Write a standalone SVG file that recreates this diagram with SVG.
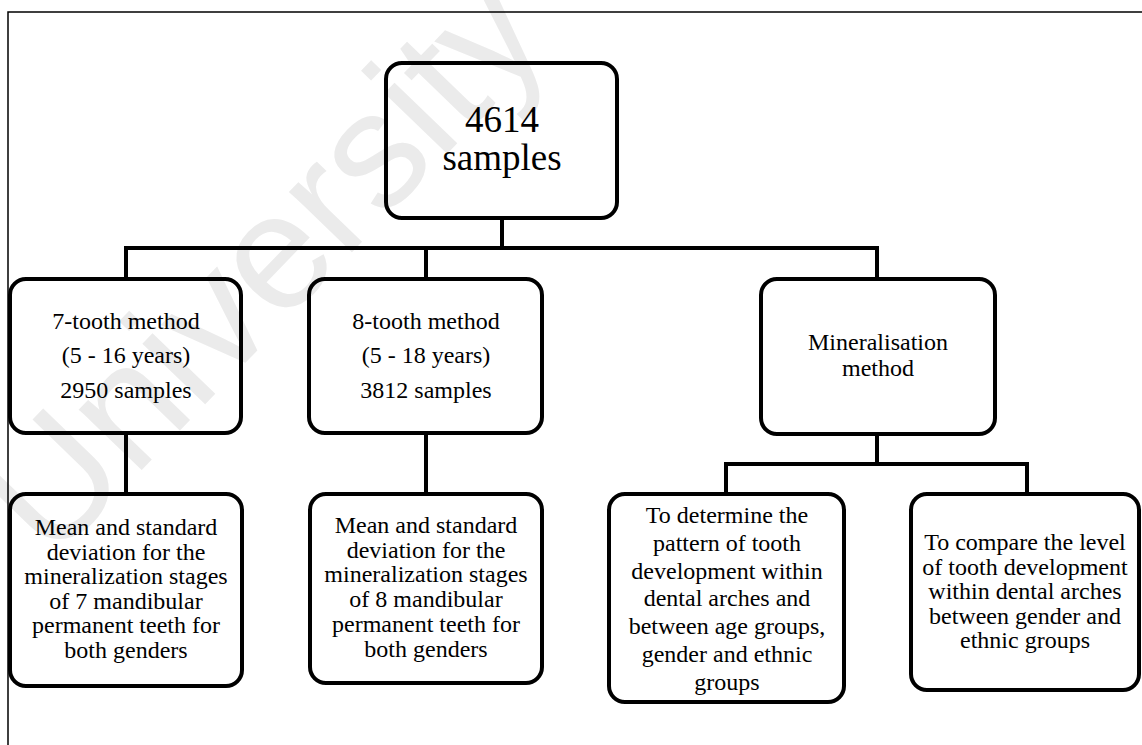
<svg xmlns="http://www.w3.org/2000/svg" width="1142" height="745" viewBox="0 0 1142 745">
<style>
.bg{fill:#ffffff}
.wm{font-family:"Liberation Sans",Arial,sans-serif;font-size:165px;fill:#ebebeb}
.frame{stroke:#000;stroke-width:1.5;fill:none}
.box{fill:none;stroke:#000;stroke-width:4}
.con{stroke:#000;stroke-width:4;fill:none;stroke-linecap:square}
.t{font-family:"Liberation Serif","Times New Roman",serif;font-size:24px;fill:#000;text-anchor:middle}
.big{font-family:"Liberation Serif","Times New Roman",serif;font-size:37px;fill:#000;text-anchor:middle}
</style>
<rect class="bg" x="0" y="0" width="1142" height="745"/>
<text class="wm" transform="translate(51,564) rotate(-46)">University</text>
<path class="frame" d="M8,745 V12 H1142"/>
<g id="connectors">
<path class="con" d="M502,218 V248"/>
<path class="con" d="M126,279 V248 H877 V279"/>
<path class="con" d="M426,248 V279"/>
<path class="con" d="M126,433 V494"/>
<path class="con" d="M426,433 V494"/>
<path class="con" d="M877,434 V464"/>
<path class="con" d="M726,494 V464 H1027 V494"/>
</g>
<g id="root">
<rect class="box" x="386" y="63" width="231" height="155" rx="16"/>
<text class="big" x="502" y="132">4614</text>
<text class="big" x="502" y="170">samples</text>
</g>
<g id="seven">
<rect class="box" x="10" y="279" width="231" height="154" rx="16"/>
<text class="t" x="126" y="329">7-tooth method</text>
<text class="t" x="126" y="363">(5 - 16 years)</text>
<text class="t" x="126" y="398">2950 samples</text>
</g>
<g id="eight">
<rect class="box" x="309" y="279" width="233" height="154" rx="16"/>
<text class="t" x="426" y="329">8-tooth method</text>
<text class="t" x="426" y="363">(5 - 18 years)</text>
<text class="t" x="426" y="398">3812 samples</text>
</g>
<g id="mineral">
<rect class="box" x="761" y="279" width="234" height="155" rx="16"/>
<text class="t" x="878" y="350">Mineralisation</text>
<text class="t" x="878" y="376">method</text>
</g>
<g id="seven-result">
<rect class="box" x="10" y="494" width="232" height="192" rx="16"/>
<text class="t" x="126" y="535">Mean and standard</text>
<text class="t" x="126" y="559.6">deviation for the</text>
<text class="t" x="126" y="584.2">mineralization stages</text>
<text class="t" x="126" y="608.8">of 7 mandibular</text>
<text class="t" x="126" y="633.4">permanent teeth for</text>
<text class="t" x="126" y="658">both genders</text>
</g>
<g id="eight-result">
<rect class="box" x="310" y="494" width="232" height="189" rx="16"/>
<text class="t" x="426" y="533">Mean and standard</text>
<text class="t" x="426" y="557.7">deviation for the</text>
<text class="t" x="426" y="582.4">mineralization stages</text>
<text class="t" x="426" y="607.1">of 8 mandibular</text>
<text class="t" x="426" y="631.8">permanent teeth for</text>
<text class="t" x="426" y="656.5">both genders</text>
</g>
<g id="pattern">
<rect class="box" x="609" y="494" width="235" height="208" rx="16"/>
<text class="t" x="727" y="523">To determine the</text>
<text class="t" x="727" y="550.8">pattern of tooth</text>
<text class="t" x="727" y="578.6">development within</text>
<text class="t" x="727" y="606.4">dental arches and</text>
<text class="t" x="727" y="634.2">between age groups,</text>
<text class="t" x="727" y="662">gender and ethnic</text>
<text class="t" x="727" y="689.8">groups</text>
</g>
<g id="compare">
<rect class="box" x="911" y="494" width="228" height="196" rx="16"/>
<text class="t" x="1025" y="550">To compare the level</text>
<text class="t" x="1025" y="574.5">of tooth development</text>
<text class="t" x="1025" y="599">within dental arches</text>
<text class="t" x="1025" y="623.5">between gender and</text>
<text class="t" x="1025" y="648">ethnic groups</text>
</g>
</svg>
